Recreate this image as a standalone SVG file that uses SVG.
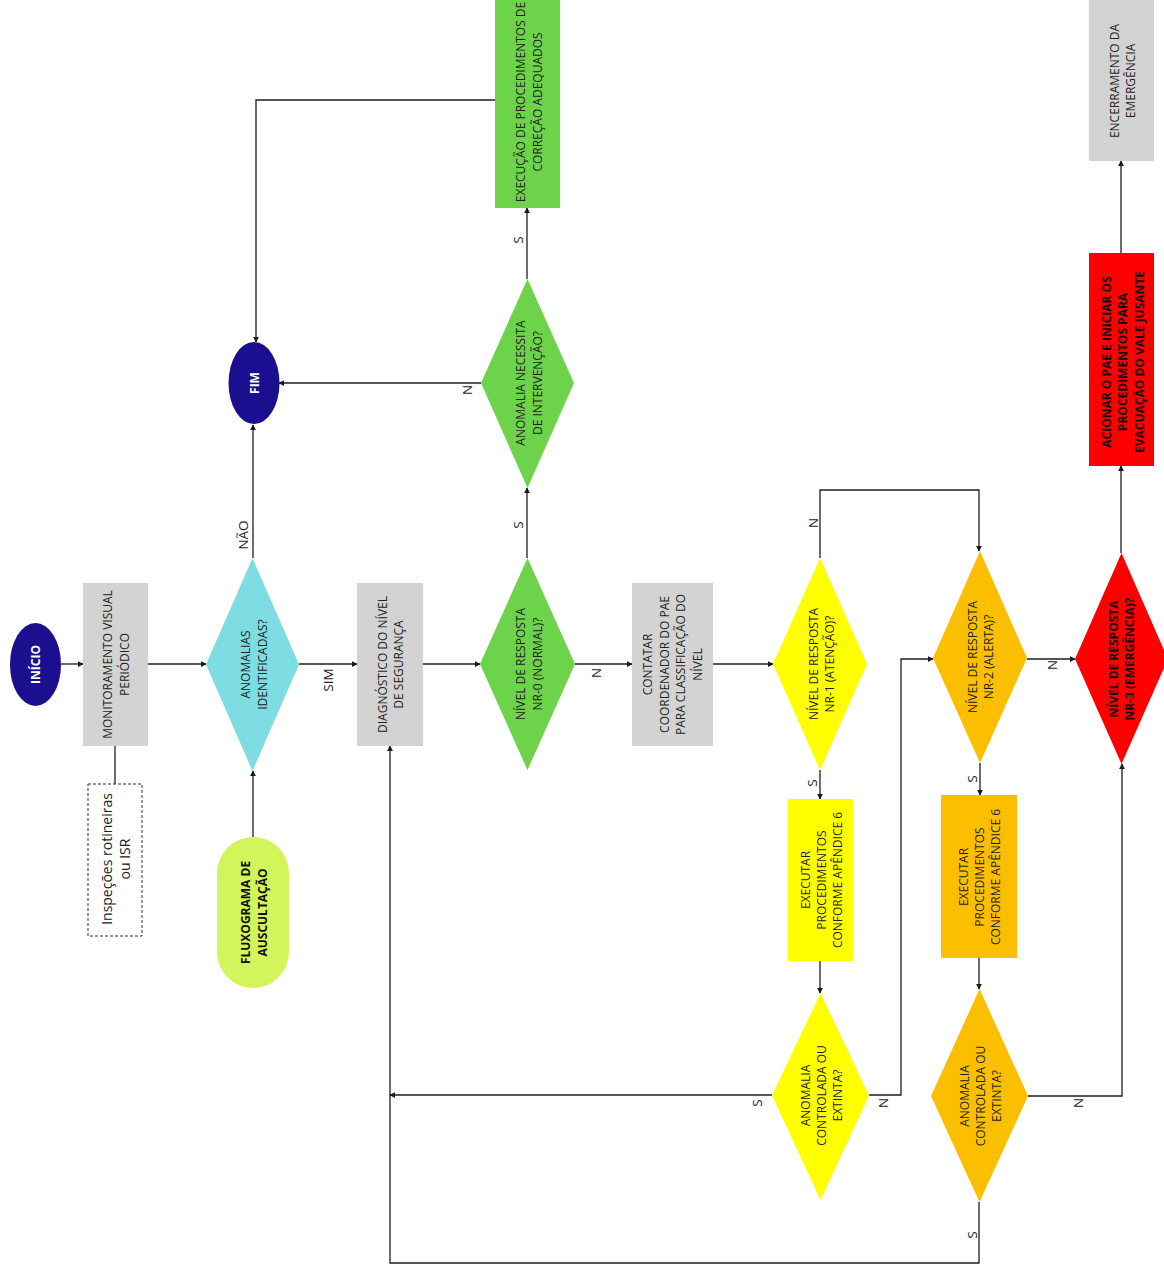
<svg xmlns="http://www.w3.org/2000/svg" width="1164" height="1272" viewBox="0 0 1164 1272">
<defs>
<marker id="ah" viewBox="0 0 8 8" refX="7" refY="4" markerWidth="6" markerHeight="6" markerUnits="userSpaceOnUse" orient="auto">
<path d="M0,0 L8,4 L0,8 z" fill="#1a1a1a"/>
</marker>
<style>
text{font-family:"Open Sans","Noto Sans","Liberation Sans",sans-serif;font-size:12px;fill:#222222;text-anchor:middle;dominant-baseline:central}
.b{font-weight:bold}
.w{fill:#ffffff;font-weight:bold}
.dk{fill:#1a0a0a;font-weight:bold}
.lbl{font-size:13.5px;fill:#222}
.c{fill:none;stroke:#1e1e1e;stroke-width:1.3;marker-end:url(#ah)}
.cn{fill:none;stroke:#1e1e1e;stroke-width:1.3}
.gray{fill:#d3d3d3}
</style>
</defs>
<rect x="0" y="0" width="1164" height="1272" fill="#ffffff"/>

<g id="connectors">
<path class="c" d="M61,664 H83"/>
<path class="c" d="M148,664 H206"/>
<path class="cn" d="M115,746 V784"/>
<path class="c" d="M253,837 V771"/>
<path class="c" d="M299,664 H357"/>
<path class="c" d="M253,558 V425"/>
<path class="c" d="M423,664 H480"/>
<path class="c" d="M527,558 V488"/>
<path class="c" d="M527,279 V208"/>
<path class="c" d="M481,383 H279"/>
<path class="c" d="M495,100 H256 V342"/>
<path class="c" d="M575,664 H632"/>
<path class="c" d="M713,664 H773"/>
<path class="c" d="M820,558 V490 H979 V551"/>
<path class="c" d="M820,770 V799"/>
<path class="c" d="M820,961 V993"/>
<path class="c" d="M869,1095 H901 V659 H933"/>
<path class="c" d="M772,1095 H390"/>
<path class="c" d="M979,1202 V1263 H390 V746"/>
<path class="c" d="M1027,659 H1075"/>
<path class="c" d="M980,763 V795"/>
<path class="c" d="M979,958 V989"/>
<path class="c" d="M1028,1096 H1122 V764"/>
<path class="c" d="M1121,553 V466"/>
<path class="c" d="M1121,253 V161"/>
<text class="lbl" transform="translate(328,680) rotate(-90)">SIM</text>
<text class="lbl" transform="translate(243,535) rotate(-90)">NÃO</text>
<text class="lbl" transform="translate(518,525) rotate(-90)">S</text>
<text class="lbl" transform="translate(518,240) rotate(-90)">S</text>
<text class="lbl" transform="translate(467,390) rotate(-90)">N</text>
<text class="lbl" transform="translate(596,673) rotate(-90)">N</text>
<text class="lbl" transform="translate(813,523) rotate(-90)">N</text>
<text class="lbl" transform="translate(812,783) rotate(-90)">S</text>
<text class="lbl" transform="translate(1052,665) rotate(-90)">N</text>
<text class="lbl" transform="translate(972,779) rotate(-90)">S</text>
<text class="lbl" transform="translate(757,1103) rotate(-90)">S</text>
<text class="lbl" transform="translate(883,1103) rotate(-90)">N</text>
<text class="lbl" transform="translate(1078,1103) rotate(-90)">N</text>
<text class="lbl" transform="translate(972,1235) rotate(-90)">S</text>
</g>

<g id="inicio">
<ellipse cx="35.5" cy="664.5" rx="25.5" ry="41.5" fill="#1b0f8f"/>
<text class="w" transform="translate(35.5,664.5) rotate(-90)">INÍCIO</text>
</g>

<g id="monitoramento">
<rect class="gray" x="83" y="583" width="65" height="163"/>
<g transform="translate(115.5,664.5) rotate(-90)"><text><tspan x="0" y="-8.5">MONITORAMENTO VISUAL</tspan><tspan x="0" y="8.5">PERIÓDICO</tspan></text></g>
</g>

<g id="inspecoes">
<rect x="88" y="784" width="54" height="152" fill="#ffffff" stroke="#333" stroke-width="1" stroke-dasharray="3,2"/>
<g transform="translate(115,859) rotate(-90)"><text style="font-size:14px"><tspan x="0" y="-9">Inspeções rotineiras</tspan><tspan x="0" y="9">ou ISR</tspan></text></g>
</g>

<g id="anomalias">
<polygon points="252.5,558 299,664.5 252.5,771 206,664.5" fill="#7edce3"/>
<g transform="translate(253,664.5) rotate(-90)"><text><tspan x="0" y="-8.5">ANOMALIAS</tspan><tspan x="0" y="8.5">IDENTIFICADAS?</tspan></text></g>
</g>

<g id="fluxograma">
<rect x="217" y="837" width="72" height="151" rx="36" ry="36" fill="#d3f55c"/>
<g transform="translate(253,912.5) rotate(-90)"><text class="b" style="fill:#111"><tspan x="0" y="-8.5">FLUXOGRAMA DE</tspan><tspan x="0" y="8.5">AUSCULTAÇÃO</tspan></text></g>
</g>

<g id="fim">
<ellipse cx="254" cy="383" rx="25.5" ry="41" fill="#1b0f8f"/>
<text class="w" transform="translate(254,383) rotate(-90)">FIM</text>
</g>

<g id="diagnostico">
<rect class="gray" x="357" y="583" width="66" height="163"/>
<g transform="translate(390,664.5) rotate(-90)"><text><tspan x="0" y="-8">DIAGNÓSTICO DO NÍVEL</tspan><tspan x="0" y="8">DE SEGURANÇA</tspan></text></g>
</g>

<g id="necessita">
<polygon points="527.5,279 574,383 527.5,488 481,383" fill="#6dd34b"/>
<g transform="translate(528,383) rotate(-90)"><text><tspan x="0" y="-8.5">ANOMALIA NECESSITA</tspan><tspan x="0" y="8.5">DE INTERVENÇÃO?</tspan></text></g>
</g>

<g id="execucao">
<rect x="495" y="-5" width="65" height="213" fill="#6dd34b"/>
<g transform="translate(528,102) rotate(-90)"><text><tspan x="0" y="-8.5">EXECUÇÃO DE PROCEDIMENTOS DE</tspan><tspan x="0" y="8.5">CORREÇÃO ADEQUADOS</tspan></text></g>
</g>

<g id="nr0">
<polygon points="527.5,558 575,664 527.5,770 480,664" fill="#6dd34b"/>
<g transform="translate(528,664) rotate(-90)"><text><tspan x="0" y="-8.5">NÍVEL DE RESPOSTA</tspan><tspan x="0" y="8.5">NR-0 (NORMAL)?</tspan></text></g>
</g>

<g id="contatar">
<rect class="gray" x="632" y="583" width="81" height="163"/>
<g transform="translate(672,664.5) rotate(-90)"><text><tspan x="0" y="-25">CONTATAR</tspan><tspan x="0" y="-8.5">COORDENADOR DO PAE</tspan><tspan x="0" y="8">PARA CLASSIFICAÇÃO DO</tspan><tspan x="0" y="24.5">NÍVEL</tspan></text></g>
</g>

<g id="nr1">
<polygon points="820,558 867,664 820,770 773,664" fill="#ffff00"/>
<g transform="translate(820.5,664) rotate(-90)"><text><tspan x="0" y="-8">NÍVEL DE RESPOSTA</tspan><tspan x="0" y="8">NR-1 (ATENÇÃO)?</tspan></text></g>
</g>

<g id="executar1">
<rect x="788" y="799" width="65" height="162" fill="#ffff00"/>
<g transform="translate(820.5,880) rotate(-90)"><text><tspan x="0" y="-16">EXECUTAR</tspan><tspan x="0" y="0">PROCEDIMENTOS</tspan><tspan x="0" y="16">CONFORME APÊNDICE 6</tspan></text></g>
</g>

<g id="controlada1">
<polygon points="820.5,993 869,1095.5 820.5,1200 772,1095.5" fill="#ffff00"/>
<g transform="translate(820.5,1095.5) rotate(-90)"><text><tspan x="0" y="-16">ANOMALIA</tspan><tspan x="0" y="0">CONTROLADA OU</tspan><tspan x="0" y="16">EXTINTA?</tspan></text></g>
</g>

<g id="nr2">
<polygon points="980,551 1027,658 980,763 933,658" fill="#fcbf00"/>
<g transform="translate(980,657) rotate(-90)"><text><tspan x="0" y="-8">NÍVEL DE RESPOSTA</tspan><tspan x="0" y="8">NR-2 (ALERTA)?</tspan></text></g>
</g>

<g id="executar2">
<rect x="941" y="795" width="76" height="163" fill="#fcbf00"/>
<g transform="translate(979,877) rotate(-90)"><text><tspan x="0" y="-16">EXECUTAR</tspan><tspan x="0" y="0">PROCEDIMENTOS</tspan><tspan x="0" y="16">CONFORME APÊNDICE 6</tspan></text></g>
</g>

<g id="controlada2">
<polygon points="979.5,989 1028,1096 979.5,1202 931,1096" fill="#fcbf00"/>
<g transform="translate(979.5,1096) rotate(-90)"><text><tspan x="0" y="-16">ANOMALIA</tspan><tspan x="0" y="0">CONTROLADA OU</tspan><tspan x="0" y="16">EXTINTA?</tspan></text></g>
</g>

<g id="nr3">
<polygon points="1121.5,553 1168,659 1121.5,764 1075,659" fill="#ff0000"/>
<g transform="translate(1121,659) rotate(-90)"><text class="dk"><tspan x="0" y="-8">NÍVEL DE RESPOSTA</tspan><tspan x="0" y="8">NR-3 (EMERGÊNCIA)?</tspan></text></g>
</g>

<g id="acionar">
<rect x="1089" y="253" width="65" height="213" fill="#ff0000"/>
<g transform="translate(1122,362) rotate(-90)"><text class="dk"><tspan x="0" y="-16.5">ACIONAR O PAE E INICIAR OS</tspan><tspan x="0" y="0">PROCEDIMENTOS PARA</tspan><tspan x="0" y="16.5">EVACUAÇÃO DO VALE JUSANTE</tspan></text></g>
</g>

<g id="encerramento">
<rect class="gray" x="1089" y="-5" width="65" height="166"/>
<g transform="translate(1122,81) rotate(-90)"><text><tspan x="0" y="-8">ENCERRAMENTO DA</tspan><tspan x="0" y="8">EMERGÊNCIA</tspan></text></g>
</g>
</svg>
